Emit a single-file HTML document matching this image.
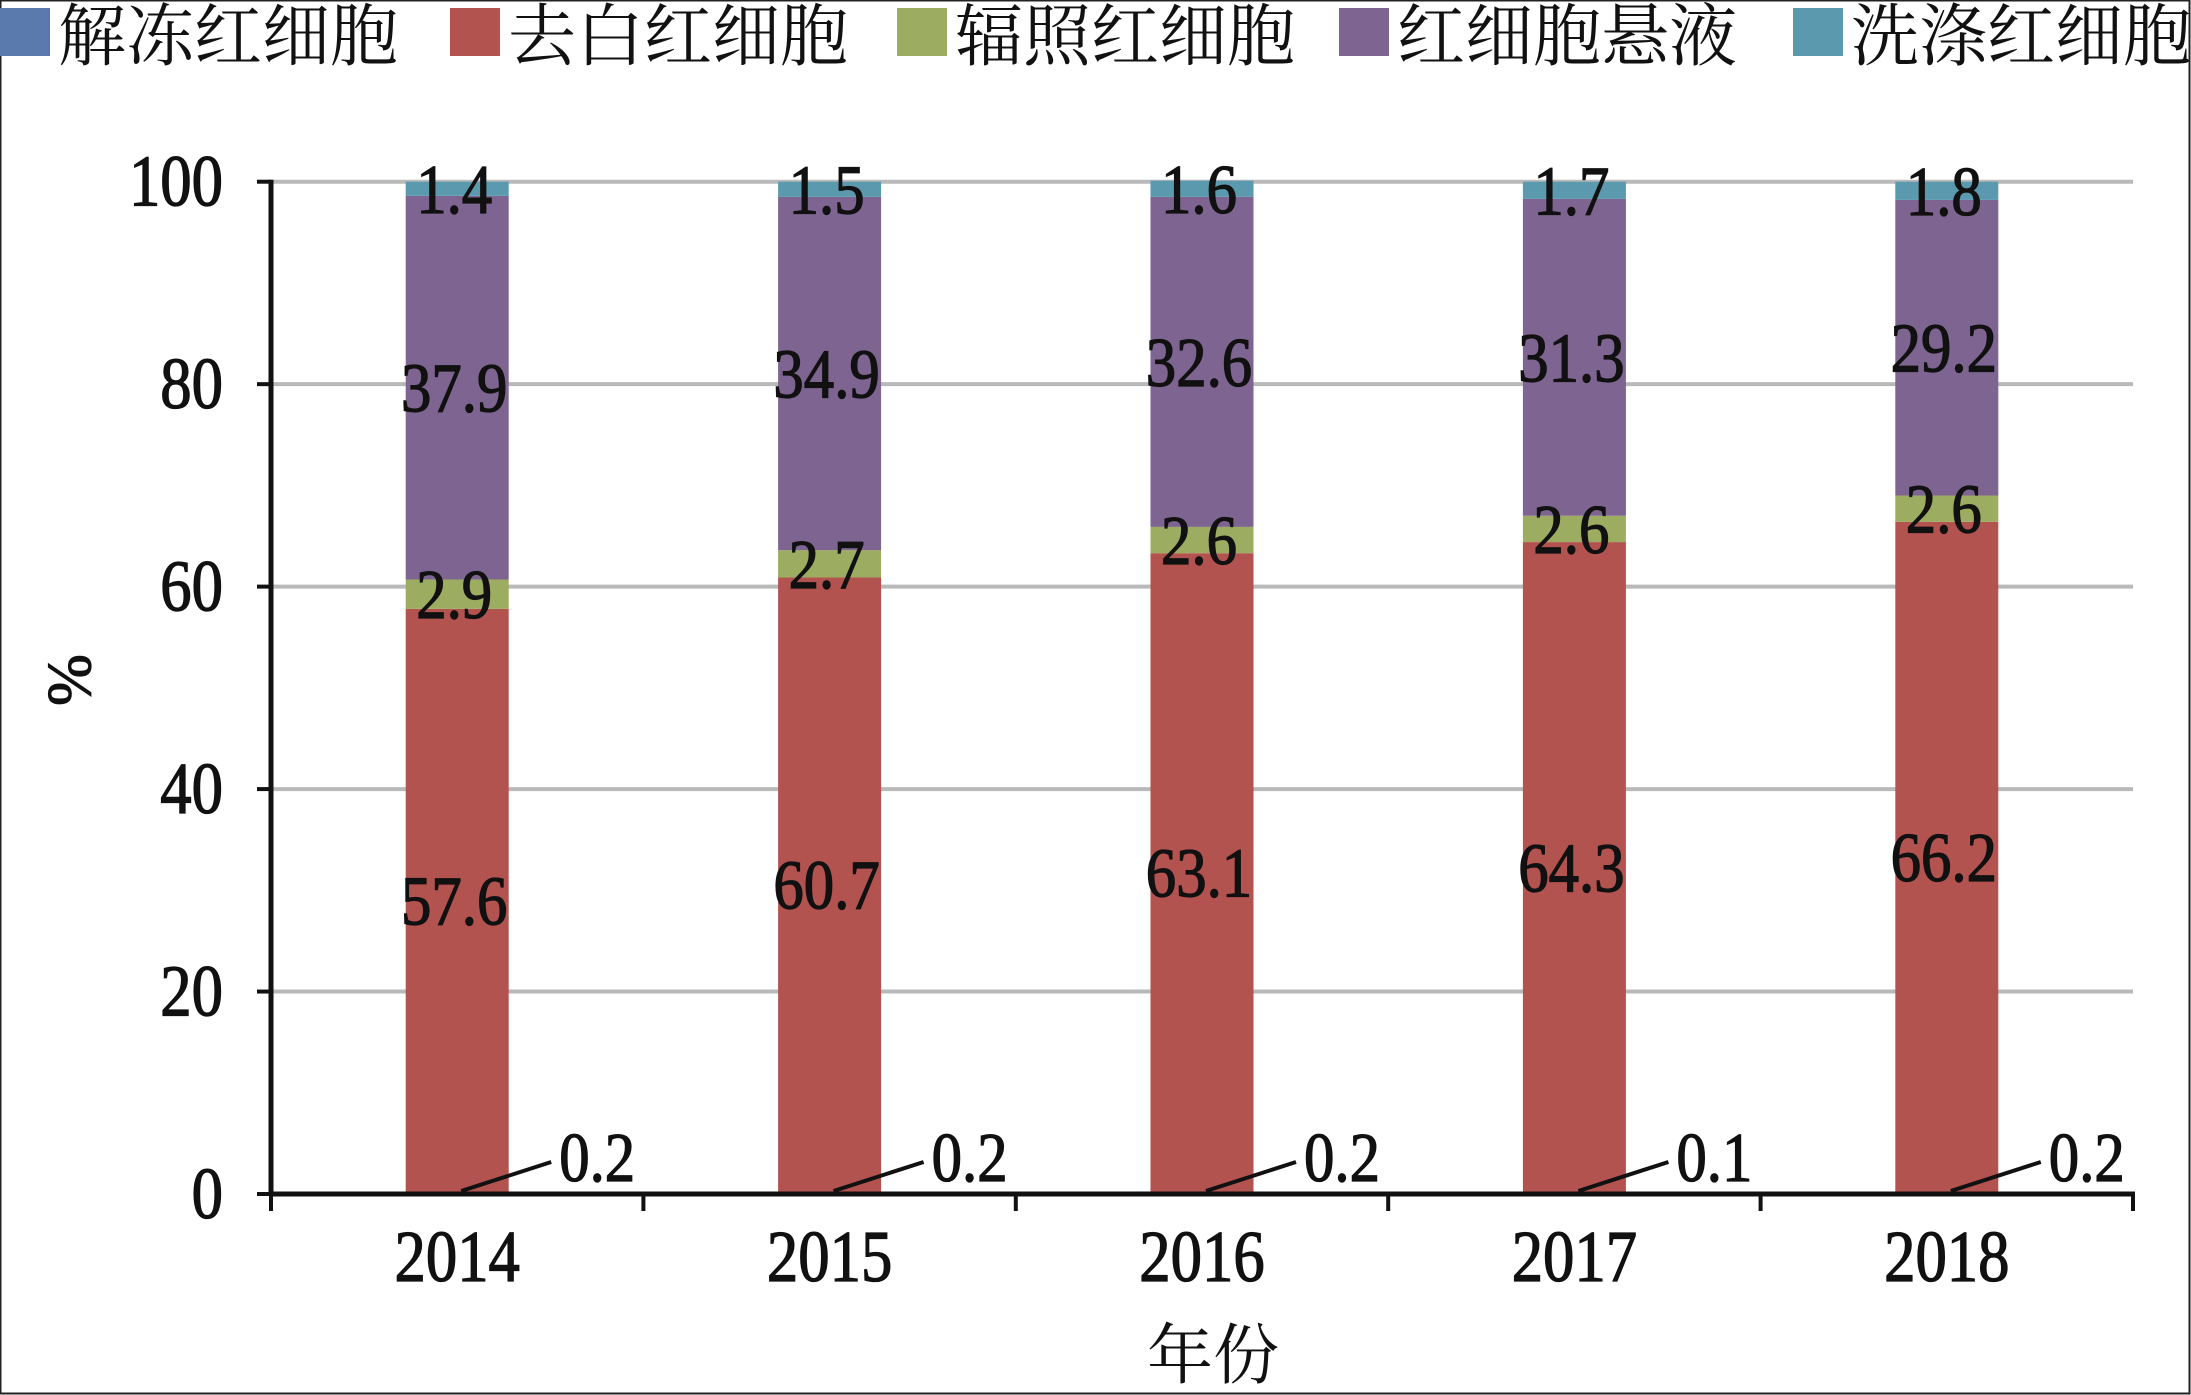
<!DOCTYPE html>
<html><head><meta charset="utf-8"><style>
html,body{margin:0;padding:0;background:#fff;}
svg{display:block;}
text{font-family:"Liberation Serif","Noto Serif CJK SC",serif;fill:#111;}
.num{stroke:#111;stroke-width:1.2px;}
</style></head><body>
<svg id="chart" width="2191" height="1395" xmlns="http://www.w3.org/2000/svg">
<rect x="0.5" y="0.5" width="2189" height="1393" fill="#fff" stroke="#222" stroke-width="2"/>
<g id="legend"></g>
<g id="grid"></g>
<g id="bars"></g>
<g id="axes"></g>
<g id="labels"></g>
<text class="num" x="0" y="0" font-size="62" text-anchor="middle" transform="translate(90,680) rotate(-90)">%</text>
<text x="1213" y="1378" font-size="66" text-anchor="middle" font-family="'Noto Serif CJK SC',serif">年份</text>
</svg>
<script>
const categories = ["2014","2015","2016","2017","2018"];
const seriesNames = ["解冻红细胞","去白红细胞","辐照红细胞","红细胞悬液","洗涤红细胞"];
const seriesColors = ["#5a79ad","#b35350","#9cac60","#7e6490","#5b9aae"];
const frozen = [0.2,0.2,0.2,0.1,0.2];
const leuko = [57.6,60.7,63.1,64.3,66.2];
const irradiated = [2.9,2.7,2.6,2.6,2.6];
const suspension = [37.9,34.9,32.6,31.3,29.2];
const washed = [1.4,1.5,1.6,1.7,1.8];
const yTicks = [0,20,40,60,80,100];

const NS="http://www.w3.org/2000/svg";
const X0=271, X1=2133, Y0=1194, Y100=181.7;
const catW=(X1-X0)/categories.length, barW=103;
function y(v){return Y0-(Y0-Y100)*v/100;}
function xc(i){return X0+catW*(i+0.5);}
function mk(tag,parent,attrs){const e=document.createElementNS(NS,tag);for(const k in attrs)e.setAttribute(k,attrs[k]);parent.appendChild(e);return e;}
function tallText(parent,x,yy,size,anchor){
  // slightly condensed / taller text like the reference
  return mk('text',parent,{x:0,y:0,'font-size':size,'text-anchor':anchor,'class':'num',transform:'translate('+x+','+yy+') scale(0.95,1.1)'});
}
const series=[frozen,leuko,irradiated,suspension,washed];
const keys=["frozen","leuko","irradiated","suspension","washed"];

// legend
const lg=document.getElementById('legend');
const lx=[0,450,897,1339,1793];
seriesNames.forEach((n,i)=>{
  const r=mk('rect',lg,{x:lx[i],y:8,width:50,height:48,fill:seriesColors[i]});
  
  
  const t=mk('text',lg,{x:lx[i]+58,y:60,'font-size':68,'font-family':"'Noto Serif CJK SC',serif"});
  t.textContent=n;
  
  
});

// grid + y ticks
const gg=document.getElementById('grid'), ax=document.getElementById('axes');
yTicks.forEach(v=>{
  if(v>0){const l=mk('line',gg,{x1:X0,x2:X1,y1:y(v),y2:y(v),stroke:'#b9b9b9','stroke-width':4});
  
  }
  const tk=mk('line',ax,{x1:X0-14,x2:X0,y1:y(v),y2:y(v),stroke:'#111','stroke-width':4});
  
  
  const t=tallText(ax,X0-48,y(v)+24,66,'end');
  t.textContent=v;
  
  
});

// bars
const bg=document.getElementById('bars'), lb=document.getElementById('labels');
categories.forEach((c,i)=>{
  let acc=0;
  series.forEach((s,k)=>{
    const v=s[i];
    const r=mk('rect',bg,{x:xc(i)-barW/2,y:y(acc+v),width:barW,height:y(acc)-y(acc+v),fill:seriesColors[k]});
    
    
    const mid=acc+v/2;
    if(k===0){
      const ln=mk('line',lb,{x1:xc(i)+4,y1:Y0-3,x2:xc(i)+94,y2:Y0-32,stroke:'#111','stroke-width':4});
      
      
      const t=tallText(lb,xc(i)+102,Y0-13,64,'start');
      t.textContent=v;
      
      
    } else {
      const t=tallText(lb,xc(i)-3,y(mid)+24,64,'middle');
      t.textContent=v.toFixed(1);
      
      
    }
    acc+=v;
  });
  const xt=tallText(ax,xc(i),1281,66,'middle');
  xt.textContent=c;
  
  
});
for(let i=0;i<=categories.length;i++){
  const t=mk('line',ax,{x1:X0+catW*i,x2:X0+catW*i,y1:Y0,y2:1211,stroke:'#111','stroke-width':4});
  
  
}
const ya=mk('line',ax,{x1:X0,x2:X0,y1:Y100-2,y2:Y0+2,stroke:'#111','stroke-width':5});


const xa=mk('line',ax,{x1:X0,x2:X1+2,y1:Y0,y2:Y0,stroke:'#111','stroke-width':5});


</script>
</body></html>
